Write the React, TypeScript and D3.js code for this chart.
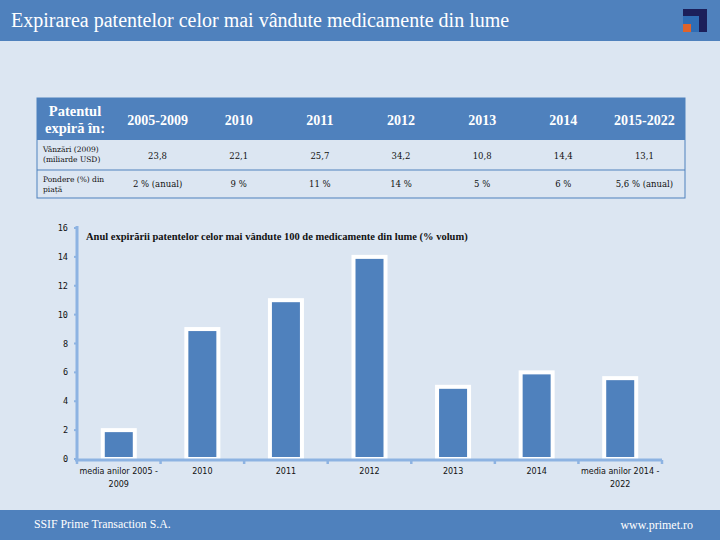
import React, { useRef, useEffect } from "react";
import * as d3 from "d3";

// table data
const tableHeaders = ["2005-2009", "2010", "2011", "2012", "2013", "2014", "2015-2022"];
const salesValues = ["23,8", "22,1", "25,7", "34,2", "10,8", "14,4", "13,1"];
const shareValues = ["2 % (anual)", "9 %", "11 %", "14 %", "5 %", "6 %", "5,6 % (anual)"];

// bar chart data
const categories = [
	["media anilor 2005 -", "2009"],
	["2010"],
	["2011"],
	["2012"],
	["2013"],
	["2014"],
	["media anilor 2014 -", "2022"],
];
const volumes = [2, 9, 11, 14, 5, 6, 5.6];
const yTicks = [0, 2, 4, 6, 8, 10, 12, 14, 16];

const BLUE = "#4f81bd";
const BG = "#dce6f2";
const AXIS = "#8db3e2";

const App = () => {
	const svgRef = useRef(null);
	const W = 720;
	const H = 540;

	useEffect(() => {
		const svg = d3.select(svgRef.current);
		svg.selectAll("*").remove();

		svg.append("rect").attr("width", W).attr("height", H).attr("fill", BG);

		// header band
		svg.append("rect").attr("width", W).attr("height", 41).attr("fill", BLUE);
		svg.append("text")
			.attr("x", 11).attr("y", 27)
			.attr("fill", "white")
			.attr("font-family", "Liberation Serif, serif")
			.attr("font-size", 20)
			.text("Expirarea patentelor celor mai vândute medicamente din lume");

		// logo
		const logo = svg.append("g");
		logo.append("rect").attr("x", 683).attr("y", 9).attr("width", 24).attr("height", 23).attr("fill", "#1c1f5a");
		logo.append("rect").attr("x", 683).attr("y", 16).attr("width", 16).attr("height", 16).attr("fill", "#2f6db5");
		logo.append("rect").attr("x", 683).attr("y", 24).attr("width", 8).attr("height", 8).attr("fill", "#e0632a");

		// table
		const tX0 = 37, tX1 = 685, firstW = 80;
		const colX = d3.scaleBand().domain(tableHeaders).range([tX0 + firstW, tX1]);
		const rowY = [98, 140, 170, 198];
		const tg = svg.append("g");
		tg.append("rect").attr("x", tX0).attr("y", rowY[0]).attr("width", tX1 - tX0).attr("height", rowY[1] - rowY[0]).attr("fill", BLUE);
		tg.append("rect").attr("x", tX0).attr("y", rowY[0]).attr("width", tX1 - tX0).attr("height", rowY[3] - rowY[0])
			.attr("fill", "none").attr("stroke", BLUE).attr("stroke-width", 1);
		tg.append("line").attr("x1", tX0).attr("x2", tX1).attr("y1", rowY[2]).attr("y2", rowY[2]).attr("stroke", BLUE).attr("stroke-width", 1);

		const hdrFont = "Liberation Serif, serif";
		tg.append("text").attr("x", tX0 + firstW / 2 - 2).attr("y", 116).attr("text-anchor", "middle")
			.attr("fill", "white").attr("font-family", hdrFont).attr("font-weight", "bold").attr("font-size", 14.5).text("Patentul");
		tg.append("text").attr("x", tX0 + firstW / 2 - 2).attr("y", 133).attr("text-anchor", "middle")
			.attr("fill", "white").attr("font-family", hdrFont).attr("font-weight", "bold").attr("font-size", 14.5).text("expiră în:");
		tg.selectAll("text.hdr").data(tableHeaders).join("text")
			.attr("class", "hdr")
			.attr("x", d => colX(d) + colX.bandwidth() / 2)
			.attr("y", 125)
			.attr("text-anchor", "middle")
			.attr("fill", "white")
			.attr("font-family", hdrFont)
			.attr("font-weight", "bold")
			.attr("font-size", 14)
			.text(d => d);

		const bodyFont = "DejaVu Serif, serif";
		const label = (lines, y) => {
			const t = tg.append("text").attr("x", 43).attr("y", y)
				.attr("font-family", bodyFont).attr("font-size", 7.5).attr("fill", "#111");
			lines.forEach((l, i) => t.append("tspan").attr("x", 43).attr("dy", i === 0 ? 0 : 10).text(l));
		};
		label(["Vânzări (2009)", "(miliarde USD)"], 152);
		label(["Pondere (%) din", "piață"], 182);

		tg.selectAll("text.sales").data(salesValues).join("text")
			.attr("class", "sales")
			.attr("x", (d, i) => colX(tableHeaders[i]) + colX.bandwidth() / 2)
			.attr("y", 159)
			.attr("text-anchor", "middle")
			.attr("font-family", bodyFont).attr("font-size", 8.5).attr("fill", "#111")
			.text(d => d);
		tg.selectAll("text.share").data(shareValues).join("text")
			.attr("class", "share")
			.attr("x", (d, i) => colX(tableHeaders[i]) + colX.bandwidth() / 2)
			.attr("y", 187)
			.attr("text-anchor", "middle")
			.attr("font-family", bodyFont).attr("font-size", 8.5).attr("fill", "#111")
			.text(d => d);

		// bar chart
		const x0 = 77, x1 = 662, yBase = 459, yTop = 228;
		const x_scale = d3.scaleBand().domain(d3.range(categories.length)).range([x0, x1]).paddingInner(0).paddingOuter(0);
		const y_scale = d3.scaleLinear().domain([0, 16]).range([yBase, yTop]);
		const bw = 32;

		const cg = svg.append("g");
		cg.selectAll("rect.bar").data(volumes).join("rect")
			.attr("class", "bar")
			.attr("x", (d, i) => x_scale(i) + x_scale.bandwidth() / 2 - bw / 2)
			.attr("y", d => y_scale(d))
			.attr("width", bw)
			.attr("height", d => yBase - y_scale(d))
			.attr("fill", BLUE)
			.attr("stroke", "white")
			.attr("stroke-width", 4);

		// y axis
		cg.append("line").attr("x1", x0).attr("x2", x0).attr("y1", yTop - 2).attr("y2", yBase + 2)
			.attr("stroke", AXIS).attr("stroke-width", 3);
		cg.selectAll("line.ytick").data(yTicks).join("line")
			.attr("class", "ytick")
			.attr("x1", x0 - 3).attr("x2", x0)
			.attr("y1", d => y_scale(d)).attr("y2", d => y_scale(d))
			.attr("stroke", AXIS).attr("stroke-width", 2);
		cg.selectAll("text.ylab").data(yTicks).join("text")
			.attr("class", "ylab")
			.attr("x", 68).attr("y", d => y_scale(d) + 3)
			.attr("text-anchor", "end")
			.attr("font-family", "DejaVu Sans Mono, monospace")
			.attr("font-size", 8.5).attr("fill", "#111")
			.text(d => d);

		// x axis
		cg.append("line").attr("x1", x0 - 2).attr("x2", x1).attr("y1", yBase + 1).attr("y2", yBase + 1)
			.attr("stroke", AXIS).attr("stroke-width", 3);
		cg.selectAll("line.xtick").data(d3.range(categories.length + 1)).join("line")
			.attr("class", "xtick")
			.attr("x1", i => x0 + i * x_scale.step()).attr("x2", i => x0 + i * x_scale.step())
			.attr("y1", yBase + 1).attr("y2", yBase + 5)
			.attr("stroke", AXIS).attr("stroke-width", 2.5);
		cg.selectAll("text.xlab").data(categories).join("text")
			.attr("class", "xlab")
			.attr("x", (d, i) => x_scale(i) + x_scale.bandwidth() / 2)
			.attr("y", 474)
			.attr("text-anchor", "middle")
			.attr("font-family", "DejaVu Sans, sans-serif")
			.attr("font-size", 8).attr("fill", "#111")
			.each(function (d) {
				const t = d3.select(this);
				d.forEach((l, i) => t.append("tspan")
					.attr("x", t.attr("x"))
					.attr("dy", i === 0 ? 0 : 12.5)
					.text(l));
			});

		cg.append("text")
			.attr("x", 86).attr("y", 240)
			.attr("font-family", "Liberation Serif, serif")
			.attr("font-weight", "bold")
			.attr("font-size", 10.5)
			.attr("fill", "#111")
			.text("Anul expirării patentelor celor mai vândute 100 de medicamente din lume (% volum)");

		// footer band
		svg.append("rect").attr("x", 0).attr("y", 510).attr("width", W).attr("height", 30).attr("fill", BLUE);
		svg.append("text").attr("x", 34).attr("y", 528)
			.attr("fill", "white").attr("font-family", "Liberation Serif, serif").attr("font-size", 11.8)
			.text("SSIF Prime Transaction S.A.");
		svg.append("text").attr("x", 693).attr("y", 529).attr("text-anchor", "end")
			.attr("fill", "white").attr("font-family", "Liberation Serif, serif").attr("font-size", 12)
			.text("www.primet.ro");
	});

	return (
		<div style={{ position: "absolute", left: 0, top: 0 }}>
			<svg ref={svgRef} width={W} height={H} style={{ display: "block" }}></svg>
		</div>
	);
};

export default App;
